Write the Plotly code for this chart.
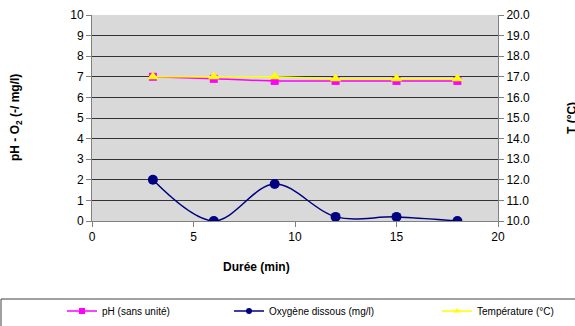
import plotly.graph_objects as go

duree = [3, 6, 9, 12, 15, 18]
ph = [7.0, 6.9, 6.8, 6.8, 6.8, 6.8]
oxygene = [2.0, 0.0, 1.8, 0.2, 0.2, 0.0]
temperature = [17.0, 17.0, 17.0, 16.9, 16.9, 16.9]
series_names = ["pH (sans unité)", "Oxygène dissous (mg/l)", "Température (°C)"]

W, H = 575, 326
L, R, T, B = 92, 498, 15, 221

def px(x):
    return (x - L) / (R - L)

def py(y):
    return (B - y) / (B - T)

FONT = "Liberation Sans, Arial, sans-serif"
styles = [
    dict(color="#FF00FF", symbol="square", size=8, lsize=6, axis="y", legend="legend"),
    dict(color="#000080", symbol="circle", size=10, lsize=6, axis="y", legend="legend2"),
    dict(color="#FFFF00", symbol="triangle-up", size=10, lsize=6, axis="y2", legend="legend3"),
]
values = [ph, oxygene, temperature]

fig = go.Figure()
for name, vals, st in zip(series_names, values, styles):
    fig.add_trace(go.Scatter(
        x=duree, y=vals, name=name, mode="lines+markers", showlegend=False,
        line=dict(color=st["color"], width=1.5, shape="spline"),
        marker=dict(symbol=st["symbol"], size=st["size"], color=st["color"]),
        yaxis=st["axis"]))
    # legend entry with the smaller legend marker
    fig.add_trace(go.Scatter(
        x=[None], y=[None], name=name, mode="lines+markers", showlegend=True,
        line=dict(color=st["color"], width=1.5),
        marker=dict(symbol=st["symbol"], size=st["lsize"], color=st["color"]),
        yaxis=st["axis"], legend=st["legend"], hoverinfo="skip"))

leg_common = dict(orientation="h", xanchor="left", yanchor="middle",
                  font=dict(family=FONT, size=10, color="#000000"),
                  bgcolor="rgba(0,0,0,0)", itemwidth=30)
ly = py(311)

fig.update_layout(
    width=W, height=H,
    margin=dict(l=L, r=W - R, t=T, b=H - B, autoexpand=False),
    paper_bgcolor="#FFFFFF", plot_bgcolor="#D9D9D9",
    font=dict(family=FONT, size=12, color="#000000"),
    xaxis=dict(range=[0, 20], tickvals=[0, 5, 10, 15, 20], showgrid=False,
               zeroline=False, showline=True, linecolor="#808080", linewidth=1,
               ticks="outside", ticklen=5, tickcolor="#808080",
               tickfont=dict(family=FONT, size=12)),
    yaxis=dict(range=[0, 10], tickvals=list(range(0, 11)), showgrid=True,
               gridcolor="#333333", gridwidth=1, zeroline=False, showline=True,
               linecolor="#808080", linewidth=1, ticks="outside", ticklen=5,
               tickcolor="#808080", tickfont=dict(family=FONT, size=12)),
    yaxis2=dict(range=[10, 20], tickvals=list(range(10, 21)), tickformat=".1f",
                overlaying="y", side="right", showgrid=False, zeroline=False,
                showline=True, linecolor="#808080", linewidth=1, ticks="outside",
                ticklen=5, tickcolor="#808080", tickfont=dict(family=FONT, size=12)),
    showlegend=True,
    legend=dict(x=px(62), y=ly, **leg_common),
    legend2=dict(x=px(229), y=ly, **leg_common),
    legend3=dict(x=px(437), y=ly, **leg_common),
    shapes=[dict(type="rect", xref="paper", yref="paper",
                 x0=px(1), x1=px(580), y0=py(299), y1=py(340),
                 line=dict(color="#404040", width=1), fillcolor="rgba(0,0,0,0)")],
    annotations=[
        dict(text="<b>pH - O<sub>2</sub> (-/ mg/l)</b>", xref="paper", yref="paper",
             x=px(16), y=py(118), textangle=-90, showarrow=False,
             xanchor="center", yanchor="middle", font=dict(family=FONT, size=12)),
        dict(text="<b>T (°C)</b>", xref="paper", yref="paper",
             x=px(572), y=py(118), textangle=-90, showarrow=False,
             xanchor="center", yanchor="middle", font=dict(family=FONT, size=12)),
        dict(text="<b>Durée (min)</b>", xref="paper", yref="paper",
             x=px(256), y=py(267), showarrow=False,
             xanchor="center", yanchor="middle", font=dict(family=FONT, size=12)),
    ],
)

fig.write_html("out.html")
